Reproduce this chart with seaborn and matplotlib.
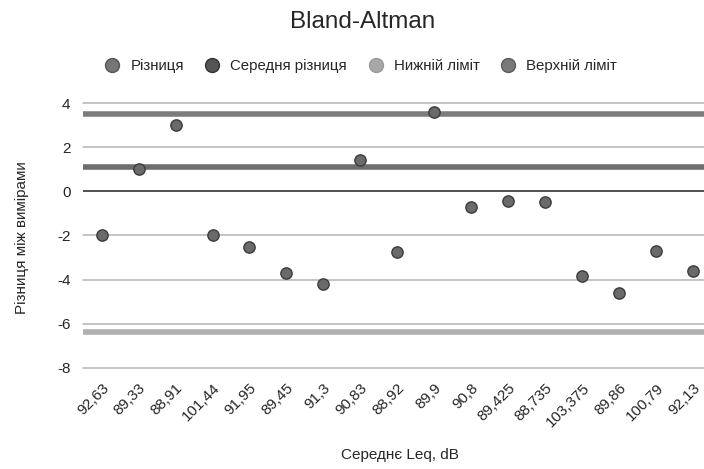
import pandas as pd
import matplotlib.pyplot as plt
import seaborn as sns
from matplotlib.lines import Line2D

# Data
mean_leq = ['92,63', '89,33', '88,91', '101,44', '91,95', '89,45', '91,3', '90,83',
            '88,92', '89,9', '90,8', '89,425', '88,735', '103,375', '89,86', '100,79', '92,13']
diff = [-2.0, 1.0, 3.0, -2.0, -2.5, -3.7, -4.2, 1.4,
        -2.75, 3.6, -0.7, -0.45, -0.47, -3.85, -4.6, -2.7, -3.6]
mean_diff = 1.1
lower_limit = -6.35
upper_limit = 3.5

df = pd.DataFrame({'pos': range(len(mean_leq)), 'label': mean_leq, 'diff': diff})

sns.set_style('white')
plt.rcParams['font.family'] = ['Liberation Sans', 'DejaVu Sans']

fig = plt.figure(figsize=(7.04, 4.69), dpi=100)
ax = fig.add_axes([0.118, 0.2154, 0.893, 0.5885])

# gridlines
for yv in [-8, -6, -4, -2, 2, 4]:
    ax.axhline(yv, color='#b4b4b4', lw=1.1, zorder=0, clip_on=False)
ax.axhline(0, color='#333333', lw=1.2, zorder=0)

# reference lines
ax.axhline(upper_limit, color='#7c7c7c', lw=4, zorder=1)
ax.axhline(mean_diff, color='#6e6e6e', lw=4, zorder=1)
ax.axhline(lower_limit, color='#b0b0b0', lw=4, zorder=1)

sns.scatterplot(data=df, x='pos', y='diff', ax=ax, s=66, color='#6a6a6a',
                edgecolor='#3c3c3c', linewidth=1, zorder=3, legend=False)

ax.set_xlim(-0.5, len(mean_leq) - 0.5)
ax.set_ylim(-8, 4.5)
ax.set_yticks([-8, -6, -4, -2, 0, 2, 4])
ax.set_yticklabels(['-8', '-6', '-4', '-2', '0', '2', '4'], fontsize=11)
ax.set_xticks(df['pos'])
ax.set_xticklabels(df['label'], rotation=45, ha='right', rotation_mode='anchor', fontsize=11)
ax.tick_params(axis='y', length=0, pad=9)
ax.tick_params(axis='x', length=0, pad=9)
for s in ax.spines.values():
    s.set_visible(False)
ax.set_xlabel('')
ax.set_ylabel('')

fig.text(400 / 704, 1 - 455 / 469, 'Середнє Leq, dB', fontsize=11, ha='center', va='center')
fig.text(22 / 704, 1 - 238 / 469, 'Різниця між вимірами', fontsize=11, ha='center', va='center',
         rotation=90)
fig.text(363 / 704, 1 - 22 / 469, 'Bland-Altman', fontsize=17.5, ha='center', va='center')

handles = [
    Line2D([], [], marker='o', ls='', markersize=10, markerfacecolor='#767676', markeredgecolor='#555555'),
    Line2D([], [], marker='o', ls='', markersize=10, markerfacecolor='#555555', markeredgecolor='#333333'),
    Line2D([], [], marker='o', ls='', markersize=10, markerfacecolor='#a8a8a8', markeredgecolor='#999999'),
    Line2D([], [], marker='o', ls='', markersize=10, markerfacecolor='#7a7a7a', markeredgecolor='#5a5a5a'),
]
labels = ['Різниця', 'Середня різниця', 'Нижній ліміт', 'Верхній ліміт']
fig.legend(handles, labels, loc='center', bbox_to_anchor=(360 / 704, 1 - 66 / 469), ncol=4,
           frameon=False, fontsize=10.8, handlelength=1.2, handletextpad=0.6, columnspacing=1.3)

fig.savefig('out.png', dpi=100)
